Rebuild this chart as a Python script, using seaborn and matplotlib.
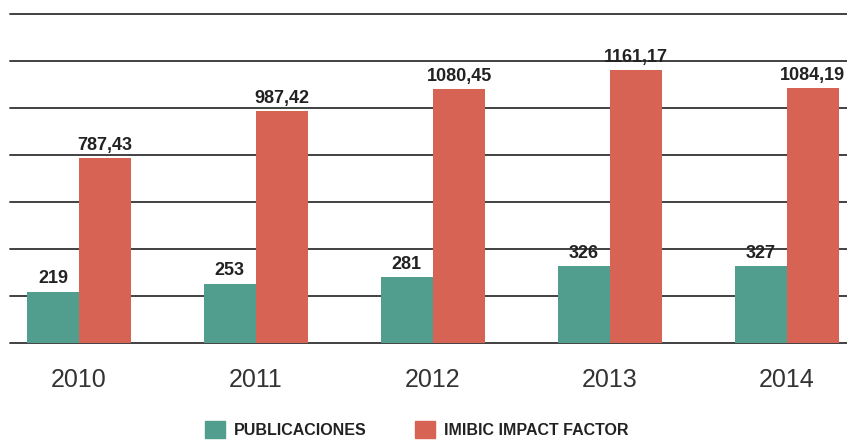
import matplotlib
matplotlib.use("Agg")
import matplotlib.pyplot as plt
import matplotlib.patches as mpatches
import pandas as pd
import seaborn as sns

# Data
years = ["2010", "2011", "2012", "2013", "2014"]
publicaciones = [219, 253, 281, 326, 327]
impact_factor = [787.43, 987.42, 1080.45, 1161.17, 1084.19]
series_names = ["PUBLICACIONES", "IMIBIC IMPACT FACTOR"]
colors = ["#519e8e", "#d66354"]

df = pd.DataFrame({
    "year": years * 2,
    "value": publicaciones + impact_factor,
    "series": [series_names[0]] * len(years) + [series_names[1]] * len(years),
})

sns.set_style("white")
plt.rcParams["font.family"] = ["Liberation Sans", "DejaVu Sans"]

fig = plt.figure(figsize=(8.47, 4.43), dpi=100)
ax = fig.add_axes([10 / 847, 1 - 343 / 443, 837 / 847, 333 / 443])

sns.barplot(data=df, x="year", y="value", hue="series", palette=colors,
            width=0.59, gap=0, saturation=1, linewidth=0, legend=False,
            ax=ax, zorder=2)

# value labels with comma decimals
def fmt(v):
    if float(v).is_integer():
        return f"{int(v)}"
    return f"{v:.2f}".replace(".", ",")

for cont in ax.containers:
    vals = [b.get_height() for b in cont]
    ax.bar_label(cont, labels=[fmt(v) for v in vals], padding=3,
                 fontsize=13, fontweight="bold", color="#222222")

ax.set_ylim(0, 1417)
ax.set_xlim(-0.39, 4.34)
ax.set_yticks(range(0, 1401, 200))
ax.yaxis.grid(True, color="#333333", linewidth=1.3)
for gl in ax.get_ygridlines():
    gl.set_clip_on(False)
ax.set_axisbelow(True)
ax.set_yticklabels([])
ax.tick_params(axis="y", length=0)
ax.tick_params(axis="x", length=0, pad=18, labelsize=18, labelcolor="#333333")
ax.set_xlabel("")
ax.set_ylabel("")
sns.despine(ax=ax, left=True, bottom=True, top=True, right=True)

handles = [mpatches.Patch(color=c, label=n) for c, n in zip(colors, series_names)]
fig.legend(handles=handles, loc="lower center", bbox_to_anchor=(0.492, -0.022),
           ncol=2, frameon=False, handlelength=1.25, handleheight=1.25,
           handletextpad=0.6, columnspacing=3.0,
           prop={"weight": "bold", "size": 11.5})
for t in fig.legends[0].get_texts():
    t.set_color("#222222")

fig.savefig("out.png", dpi=100)
